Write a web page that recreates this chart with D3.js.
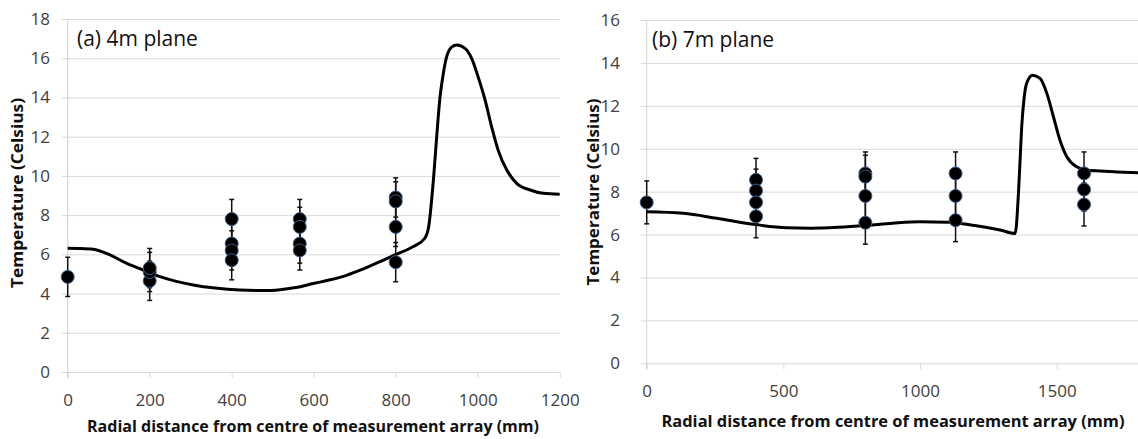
<!DOCTYPE html>
<html>
<head>
<meta charset="utf-8">
<script src="https://cdn.jsdelivr.net/npm/d3@7"></script>
<style>
  body { margin: 0; background: #fff; }
  text { font-family: "Open Sans", sans-serif; }
  .tick text { font-size: 17px; fill: #404040; }
  .tick line { stroke: #d9d9d9; }
  .axis-title { font-weight: bold; font-size: 16px; fill: #111; }
  .panel-title { font-size: 21px; fill: #111; }
</style>
</head>
<body>
<svg id="chart" width="1138" height="439"></svg>
<script>
// (a) 4m plane - model curve
var leftModelX = [0, 30, 62, 103, 144, 184, 225, 265, 306, 360, 420, 480, 518, 560, 599, 640, 680, 720, 762, 798, 843, 871,
    880, 892, 900, 908, 916, 924, 937, 949, 969, 985, 1001, 1018, 1034, 1050, 1071, 1095, 1128, 1160, 1200];
var leftModelT = [6.31, 6.3, 6.26, 5.97, 5.54, 5.2, 4.86, 4.62, 4.44, 4.28, 4.18, 4.15, 4.2, 4.32, 4.51, 4.7, 4.93, 5.25, 5.63, 5.97, 6.4, 6.82,
    7.35, 9.8, 12.0, 14.0, 15.2, 16.05, 16.58, 16.68, 16.5, 16.0, 15.05, 13.87, 12.5, 11.3, 10.3, 9.62, 9.28, 9.11, 9.07];
// (a) measurements
var leftObsX = [0, 200, 200, 200, 400, 400, 400, 400, 566, 566, 566, 566, 800, 800, 800, 800];
var leftObsT = [4.85, 4.65, 5.1, 5.3, 7.8, 6.55, 6.2, 5.7, 7.8, 7.4, 6.55, 6.2, 8.9, 8.7, 7.4, 5.6];
var leftObsErr = [1, 1, 1, 1, 1, 1, 1, 1, 1, 1, 1, 1, 1, 1, 1, 1];
var leftXTicks = [0, 200, 400, 600, 800, 1000, 1200];
var leftYTicks = [0, 2, 4, 6, 8, 10, 12, 14, 16, 18];

// (b) 7m plane - model curve
var rightModelX = [0, 134, 256, 390, 512, 600, 700, 800, 900, 1000, 1100, 1200, 1293, 1348, 1360, 1366, 1372, 1380, 1390,
    1412, 1439, 1464, 1488, 1512, 1537, 1573, 1610, 1658, 1720, 1800];
var rightModelT = [7.06, 6.99, 6.76, 6.48, 6.32, 6.3, 6.34, 6.42, 6.53, 6.6, 6.57, 6.42, 6.21, 6.05, 7.92, 9.47, 11.03, 12.27, 13.05,
    13.43, 13.28, 12.58, 11.49, 10.4, 9.63, 9.16, 9.0, 8.96, 8.92, 8.88];
// (b) measurements
var rightObsX = [0, 400, 400, 400, 400, 800, 800, 800, 800, 1130, 1130, 1130, 1600, 1600, 1600];
var rightObsT = [7.5, 8.55, 8.05, 7.5, 6.85, 8.85, 8.7, 7.8, 6.55, 8.85, 7.8, 6.67, 8.85, 8.1, 7.4];
var rightObsErr = [1, 1, 1, 1, 1, 1, 1, 1, 1, 1, 1, 1, 1, 1, 1];
var rightXTicks = [0, 500, 1000, 1500];
var rightYTicks = [0, 2, 4, 6, 8, 10, 12, 14, 16];

var svg = d3.select("#chart");

function drawPanel(p) {
    var x = d3.scaleLinear().domain(p.xDomain).range(p.xRange);
    var y = d3.scaleLinear().domain(p.yDomain).range(p.yRange);
    var g = svg.append("g");
    var w = p.xRange[1] - p.xRange[0];

    // horizontal grid + y labels
    var yAxis = d3.axisLeft(y)
        .tickValues(p.yTicks)
        .tickSizeInner(-(w + 6))
        .tickSizeOuter(0)
        .tickPadding(p.yPad)
        .tickFormat(d3.format("d"));
    g.append("g")
        .attr("transform", "translate(" + (p.xRange[0] - 6) + ",0)")
        .call(yAxis)
        .call(function (s) { s.select(".domain").remove(); });

    // x ticks + labels
    var xAxis = d3.axisBottom(x)
        .tickValues(p.xTicks)
        .tickSizeInner(6)
        .tickSizeOuter(0)
        .tickPadding(p.xPad)
        .tickFormat(d3.format("d"));
    g.append("g")
        .attr("transform", "translate(0," + y(0) + ")")
        .call(xAxis)
        .call(function (s) { s.select(".domain").remove(); });

    // vertical axis line
    g.append("line")
        .attr("x1", x(0)).attr("x2", x(0))
        .attr("y1", y(p.yDomain[1])).attr("y2", y(0) + 6)
        .attr("stroke", "#d0d0d0");

    // model line
    var pts = p.modelX.map(function (d, i) { return [d, p.modelT[i]]; });
    g.append("path")
        .datum(pts)
        .attr("fill", "none")
        .attr("stroke", "#000")
        .attr("stroke-width", 3)
        .attr("stroke-linejoin", "round")
        .attr("d", d3.line()
            .x(function (d) { return x(d[0]); })
            .y(function (d) { return y(d[1]); })
            .curve(d3.curveMonotoneX));

    // error bars
    var obs = p.obsX.map(function (d, i) { return { x: d, t: p.obsT[i], e: p.obsErr[i] }; });
    var eb = g.append("g").attr("stroke", "#111").attr("stroke-width", 1.5);
    eb.selectAll("line.v").data(obs).enter().append("line")
        .attr("class", "v")
        .attr("x1", function (d) { return x(d.x); })
        .attr("x2", function (d) { return x(d.x); })
        .attr("y1", function (d) { return y(d.t - d.e); })
        .attr("y2", function (d) { return y(d.t + d.e); });
    eb.selectAll("line.top").data(obs).enter().append("line")
        .attr("class", "top")
        .attr("x1", function (d) { return x(d.x) - 2.5; })
        .attr("x2", function (d) { return x(d.x) + 2.5; })
        .attr("y1", function (d) { return y(d.t + d.e); })
        .attr("y2", function (d) { return y(d.t + d.e); });
    eb.selectAll("line.bot").data(obs).enter().append("line")
        .attr("class", "bot")
        .attr("x1", function (d) { return x(d.x) - 2.5; })
        .attr("x2", function (d) { return x(d.x) + 2.5; })
        .attr("y1", function (d) { return y(d.t - d.e); })
        .attr("y2", function (d) { return y(d.t - d.e); });

    // markers
    g.selectAll("circle").data(obs).enter().append("circle")
        .attr("cx", function (d) { return x(d.x); })
        .attr("cy", function (d) { return y(d.t); })
        .attr("r", 6.5)
        .attr("fill", "#000")
        .attr("stroke", "#3d5f86")
        .attr("stroke-width", 1);

    // titles
    g.append("text")
        .attr("class", "panel-title")
        .attr("x", p.titlePos[0]).attr("y", p.titlePos[1])
        .text(p.title);
    g.append("text")
        .attr("class", "axis-title")
        .attr("text-anchor", "middle")
        .attr("x", p.xLabelPos[0]).attr("y", p.xLabelPos[1])
        .attr("textLength", p.xLabelLen)
        .attr("lengthAdjust", "spacingAndGlyphs")
        .text("Radial distance from centre of measurement array (mm)");
    g.append("text")
        .attr("class", "axis-title")
        .attr("text-anchor", "middle")
        .attr("dy", "0.35em")
        .attr("transform", "translate(" + p.yLabelPos[0] + "," + p.yLabelPos[1] + ") rotate(-90)")
        .attr("textLength", p.yLabelLen)
        .attr("lengthAdjust", "spacingAndGlyphs")
        .text("Temperature (Celsius)");
}

drawPanel({
    xDomain: [0, 1200], xRange: [67.7, 559.7],
    yDomain: [0, 18], yRange: [372, 19],
    xTicks: leftXTicks, yTicks: leftYTicks,
    yPad: 11.7, xPad: 16,
    modelX: leftModelX, modelT: leftModelT,
    obsX: leftObsX, obsT: leftObsT, obsErr: leftObsErr,
    title: "(a) 4m plane", titlePos: [77, 46],
    xLabelPos: [313, 432], xLabelLen: 452,
    yLabelPos: [17.5, 193], yLabelLen: 190
});

drawPanel({
    xDomain: [0, 1800], xRange: [646.7, 1138.7],
    yDomain: [0, 16], yRange: [363.3, 20],
    xTicks: rightXTicks, yTicks: rightYTicks,
    yPad: 20.7, xPad: 16,
    modelX: rightModelX, modelT: rightModelT,
    obsX: rightObsX, obsT: rightObsT, obsErr: rightObsErr,
    title: "(b) 7m plane", titlePos: [652, 47],
    xLabelPos: [893, 427], xLabelLen: 463,
    yLabelPos: [593, 192], yLabelLen: 187
});
</script>
</body>
</html>
